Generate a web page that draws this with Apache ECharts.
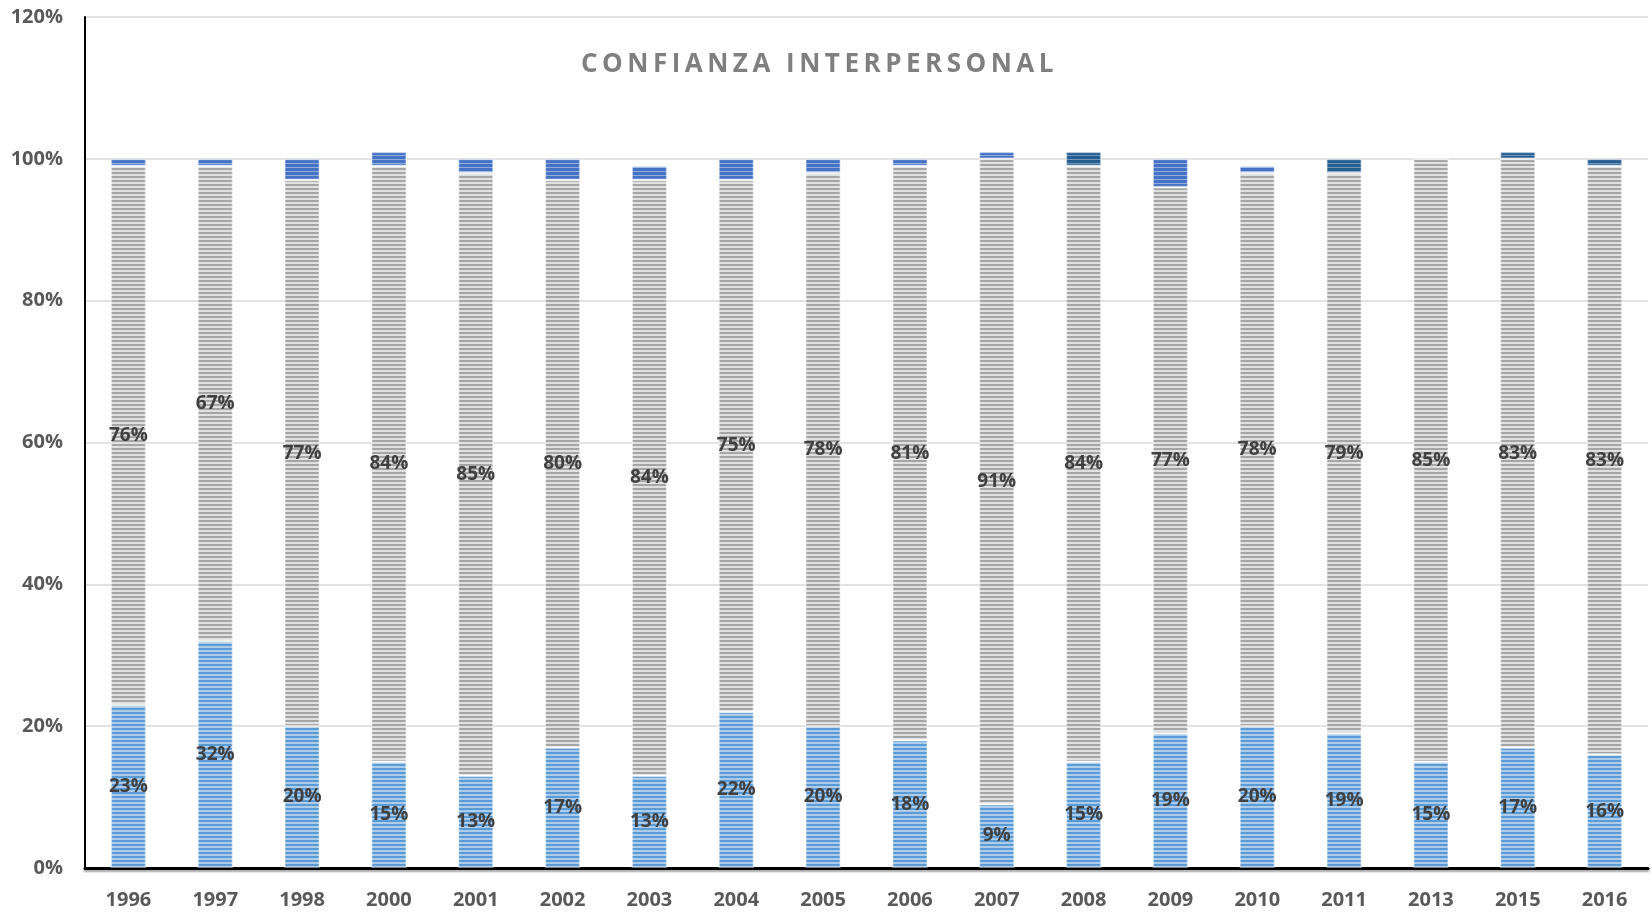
<!DOCTYPE html>
<html>
<head>
<meta charset="utf-8">
<script src="https://cdn.jsdelivr.net/npm/echarts@6/dist/echarts.min.js"></script>
<style>
  html, body { margin: 0; padding: 0; background: #ffffff; }
  #wrap { position: relative; width: 1651px; height: 912px; }
  #chart { width: 1651px; height: 912px; }
  #title { position: absolute; left: 0; width: 1651px; top: 44px; text-align: center;
           font-family: "Open Sans", sans-serif; font-weight: 700;
           font-size: 26px; letter-spacing: 4.5px; color: #7f7f7f; line-height: 36px;
           pointer-events: none; }
</style>
</head>
<body>
<div id="wrap">
  <div id="chart"></div>
  <div id="title"><span style="position:relative;left:-6px">CONFIANZA INTERPERSONAL</span></div>
</div>
<script>
// ---- data ----
const years = ['1996','1997','1998','2000','2001','2002','2003','2004','2005','2006','2007','2008','2009','2010','2011','2013','2015','2016'];
const confia = [23,32,20,15,13,17,13,22,20,18,9,15,19,20,19,15,17,16];
const noConfia = [76,67,77,84,85,80,84,75,78,81,91,84,77,78,79,85,83,83];
const nsnr = [1,1,3,2,2,3,2,3,2,1,1,2,4,1,2,0,1,1];
const yTicks = [0,20,40,60,80,100,120];

// ---- styles ----
const darkTopYears = ['2008','2011','2015','2016'];

function stripes(dark, light, darkH, period) {
  const cv = document.createElement('canvas');
  cv.width = 8; cv.height = period;
  const ctx = cv.getContext('2d');
  ctx.fillStyle = light; ctx.fillRect(0, 0, 8, period);
  ctx.fillStyle = dark; ctx.fillRect(0, 0, 8, darkH);
  return { image: cv, repeat: 'repeat' };
}
const patBlue = stripes('#5b9bd5', '#acccea', 2, 4);
const patGray = stripes('#a5a5a5', '#e0e0e0', 2, 4);
const patTop = stripes('#4472c4', '#93acdc', 3, 4);
const patTopDark = stripes('#255e91', '#7396b8', 3, 4);

const chart = echarts.init(document.getElementById('chart'), null, { renderer: 'canvas' });

const labelStyle = {
  show: true,
  position: 'inside',
  formatter: p => p.value + '%',
  fontFamily: 'Open Sans',
  fontWeight: 'bold',
  fontSize: 19,
  color: '#404040'
};
const edge = { borderColor: 'rgba(255,255,255,0.35)', borderWidth: 1.5 };

chart.setOption({
  animation: false,
  backgroundColor: '#ffffff',
  grid: { left: 85, right: 3, top: 17, bottom: 44, containLabel: false },
  xAxis: {
    type: 'category',
    data: years,
    axisLine: { show: true, lineStyle: { color: '#000000', width: 3, shadowColor: 'rgba(0,0,0,0.35)', shadowOffsetY: 2, shadowBlur: 2 } },
    axisTick: { show: false },
    axisLabel: { fontFamily: 'Open Sans', fontWeight: 'bold', fontSize: 20, color: '#595959', margin: 22 }
  },
  yAxis: {
    type: 'value',
    min: yTicks[0],
    max: yTicks[yTicks.length - 1],
    interval: 20,
    axisLine: { show: true, lineStyle: { color: '#000000', width: 2 } },
    axisTick: { show: false },
    splitLine: { lineStyle: { color: '#d9d9d9', width: 1.5 } },
    axisLabel: { formatter: v => v + '%', fontFamily: 'Open Sans', fontWeight: 'bold', fontSize: 20, color: '#595959', margin: 22 }
  },
  series: [
    {
      name: 'Confía', type: 'bar', stack: 'total', barWidth: '41%',
      data: confia,
      itemStyle: Object.assign({ color: patBlue }, edge),
      label: labelStyle
    },
    {
      name: 'No confía', type: 'bar', stack: 'total', barWidth: '41%',
      data: noConfia,
      itemStyle: Object.assign({ color: patGray }, edge),
      label: labelStyle
    },
    {
      name: 'NS/NR', type: 'bar', stack: 'total', barWidth: '41%',
      data: nsnr.map((v, i) => ({
        value: v,
        itemStyle: { color: darkTopYears.includes(years[i]) ? patTopDark : patTop }
      })),
      itemStyle: Object.assign({ color: patTop }, edge),
      label: { show: false }
    }
  ]
});
</script>
</body>
</html>
